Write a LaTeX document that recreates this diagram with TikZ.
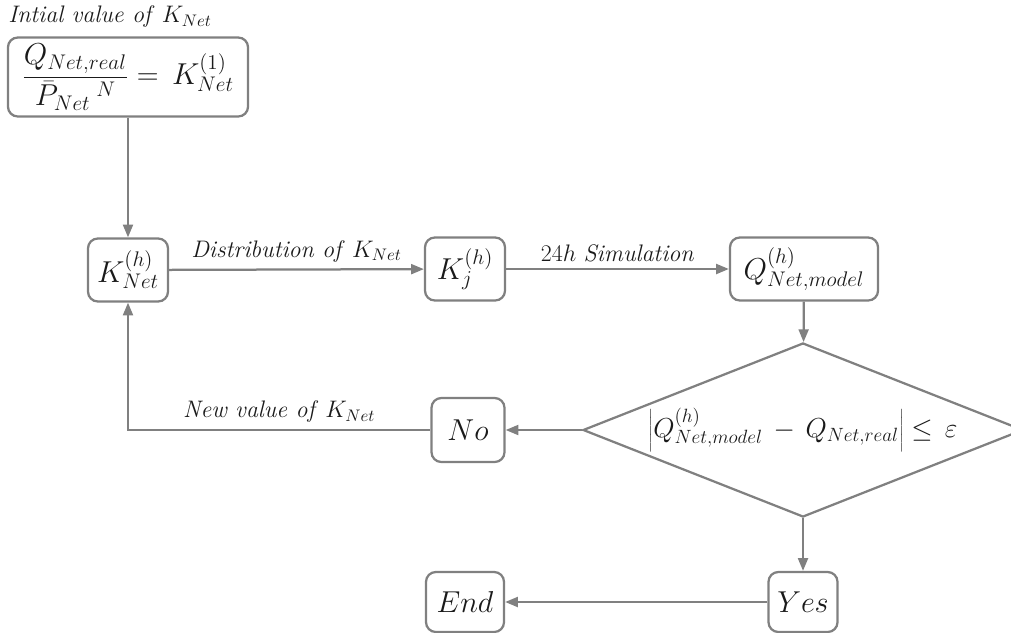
\RequirePackage{fix-cm}
\documentclass[tikz,border=0pt]{standalone}
\usepackage{xcolor}
\usetikzlibrary{shapes.geometric,arrows.meta}
\definecolor{vgray}{HTML}{808080}
\definecolor{vdarkgray}{HTML}{1a1a1a}

\tikzset{
	flowbox/.style={draw=vgray, line width=1.6pt, rounded corners=7pt, fill=white, text=vdarkgray, font=\fontsize{21.5}{25}\selectfont, inner sep=2pt},
	flowline/.style={draw=vgray, line width=1.6pt, -{Triangle[length=9pt,width=7pt]}},
	flowlabel/.style={text=vdarkgray, font=\fontsize{17}{20}\selectfont},
}

\begin{document}
\begin{tikzpicture}[x=0.025cm, y=-0.025cm]
		\useasboundingbox (0,0) rectangle (1011,632);
		% boxes
		\node[flowlabel, anchor=west, inner sep=0pt] (initlabel) at (8,17) {\textit{Intial value of} $K_{Net}$};
		\node[flowbox, minimum width=6cm, minimum height=1.975cm] (kinit) at (128,77) {$\displaystyle \frac{Q_{Net,real}}{\bar{P}_{Net}{}^{\;N}} = \, K_{Net}^{(1)}$};
		\node[flowbox, minimum width=2cm, minimum height=1.575cm] (kh) at (128,270) {$K_{Net}^{(h)}$};
		\node[flowbox, minimum width=2cm, minimum height=1.575cm] (kj) at (465,269) {$K_{j}^{(h)}$};
		\node[flowbox, minimum width=3.7cm, minimum height=1.575cm] (qm) at (804,269) {$Q_{Net,model}^{(h)}$};
		\node[draw=vgray, line width=1.6pt, diamond, aspect=2.53, inner sep=0pt, minimum width=11cm, minimum height=4.35cm, text=vdarkgray, font=\fontsize{19.5}{23}\selectfont] (check) at (803,430) {$\left|Q_{Net,model}^{(h)} \,-\, Q_{Net,real}\right| \le \,\varepsilon$};
		\node[flowbox, minimum width=1.825cm, minimum height=1.6cm] (no) at (468,430) {$No$};
		\node[flowbox, minimum width=1.725cm, minimum height=1.5cm] (yes) at (803,602) {$Yes$};
		\node[flowbox, minimum width=1.95cm, minimum height=1.5cm] (end) at (465,602) {$End$};
		% connectors
		\draw[flowline] (kinit) -- (kh);
		\draw[flowline] (kh) -- node[flowlabel, above=1pt] {\textit{Distribution of} $K_{Net}$} (kj);
		\draw[flowline] (kj) -- node[flowlabel, above=1pt] {$24h$ \textit{Simulation}} (qm);
		\draw[flowline] (qm) -- (check);
		\draw[flowline] (check) -- (no);
		\draw[flowline] (no.west) -| node[flowlabel, above=1pt, pos=0.25] {\textit{New value of} $K_{Net}$} (kh.south);
		\draw[flowline] (check) -- (yes);
		\draw[flowline] (yes) -- (end);
	\end{tikzpicture}
\end{document}
